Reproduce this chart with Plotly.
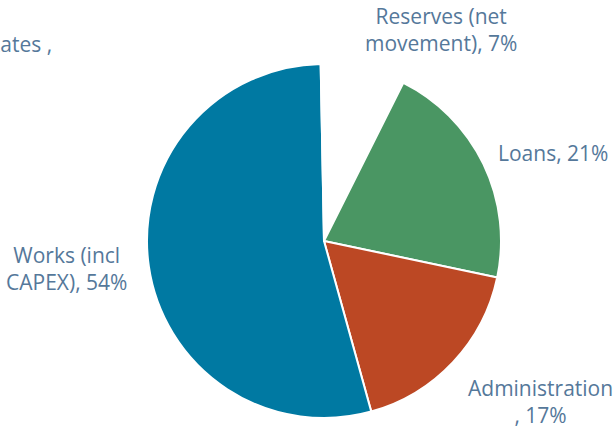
import plotly.graph_objects as go

W, H = 616, 429

categories = ["Reserves (net movement)", "Loans", "Administration", "Works (incl CAPEX)", "Interest Rates"]
values = [7.4, 20.9, 17.4, 54.0, 0.3]
label_texts = ["Reserves (net<br>movement), 7%", "Loans, 21%", "Administration<br>, 17%",
               "Works (incl<br>CAPEX), 54%", "Interest Rates ,<br>0%"]
colors = ["#FFFFFF", "#4A9663", "#BC4824", "#0079A2", "#FFFFFF"]

# label anchor points in pixels (x from left, y from top) and x anchors
label_pos = [(441, 29), (553, 153), (540, 401), (66, 268), (54, 58)]
label_xanchor = ["center", "center", "center", "center", "right"]

cx, cy, R = 324, 241, 177

fig = go.Figure(go.Pie(
    labels=categories,
    values=values,
    sort=False,
    direction="clockwise",
    rotation=0,
    marker=dict(colors=colors, line=dict(color="#FFFFFF", width=2)),
    textinfo="none",
    hoverinfo="label+percent",
    showlegend=False,
    domain=dict(x=[(cx - R) / W, (cx + R) / W], y=[(H - cy - R) / H, (H - cy + R) / H]),
))

for txt, (px, py), xa in zip(label_texts, label_pos, label_xanchor):
    fig.add_annotation(
        x=px / W, y=1 - py / H, xref="paper", yref="paper",
        text=txt, showarrow=False, align="center",
        xanchor=xa, yanchor="middle",
        font=dict(family="Open Sans", size=21, color="#55789A"),
    )

fig.update_layout(
    width=W, height=H,
    margin=dict(l=0, r=0, t=0, b=0),
    paper_bgcolor="white", plot_bgcolor="white",
)

fig.write_html("out.html", config={"displayModeBar": False},
               post_script="document.body.style.margin='0';")
